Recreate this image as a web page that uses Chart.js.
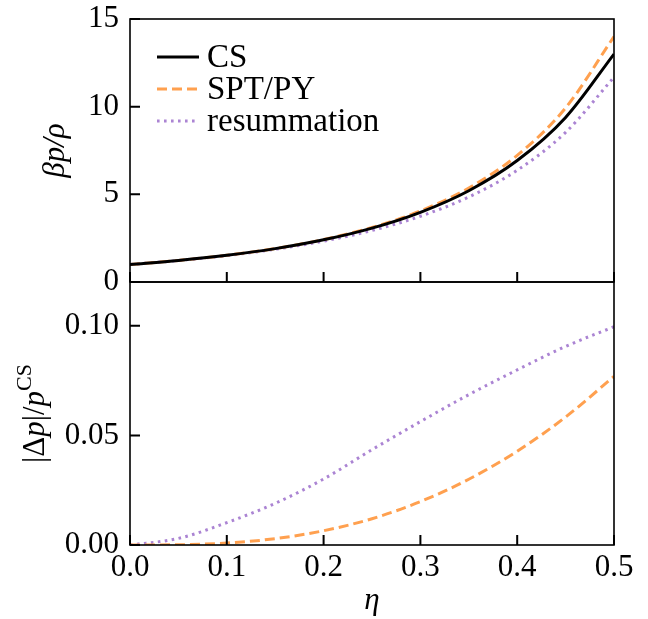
<!DOCTYPE html>
<html>
<head>
<meta charset="utf-8">
<script src="https://cdn.jsdelivr.net/npm/chart.js@4.4.0/dist/chart.umd.min.js"></script>
<style>
  body { margin: 0; background: #fff; }
  canvas { display: block; }
</style>
</head>
<body>
<canvas id="myChart" width="648" height="619"></canvas>
<script>
// packing fraction
var eta = [0, 0.05, 0.1, 0.15, 0.2, 0.25, 0.3, 0.35, 0.4, 0.45, 0.5];

// top panel: beta p / rho
var csValues    = [1.000, 1.227, 1.521, 1.904, 2.406, 3.074, 3.974, 5.206, 6.926, 9.385, 13.00];
var sptValues   = [1.000, 1.228, 1.523, 1.909, 2.422, 3.111, 4.053, 5.362, 7.222, 9.932, 14.00];
var resumValues = [1.000, 1.224, 1.506, 1.868, 2.334, 2.940, 3.750, 4.849, 6.373, 8.534, 11.68];

// bottom panel: |dp| / p^CS
var sptDiff   = [0, 0.0001, 0.0009, 0.0029, 0.0065, 0.0120, 0.0198, 0.0300, 0.0428, 0.0584, 0.0769];
var resumDiff = [0, 0.0030, 0.0102, 0.0190, 0.0301, 0.0435, 0.0563, 0.0686, 0.0799, 0.0906, 0.0996];

var xTicks = [0, 0.1, 0.2, 0.3, 0.4, 0.5];
var topTicks = [0, 5, 10, 15];
var botTicks = [0, 0.05, 0.10];

var FONT = "'Liberation Serif', 'DejaVu Serif', serif";
var orange = '#ffa04f';
var purple = '#ab84d3';

function pts(ys) {
    return eta.map(function (x, i) { return {x: x, y: ys[i]}; });
}

function line(label, ys, color, dash, axis) {
    return {
        label: label,
        data: pts(ys),
        yAxisID: axis,
        borderColor: color,
        backgroundColor: color,
        borderWidth: 3,
        borderDash: dash,
        pointRadius: 0,
        fill: false,
        cubicInterpolationMode: 'monotone'
    };
}

// frame, inward ticks, y titles and legend
var decor = {
    id: 'decor',
    afterDraw: function (chart) {
        var ctx = chart.ctx;
        var x = chart.scales.x;
        var panels = [chart.scales.yTop, chart.scales.yBot];
        ctx.save();
        ctx.strokeStyle = '#000';
        panels.forEach(function (ys) {
            ctx.lineWidth = 1.6;
            ctx.strokeRect(x.left, ys.top, x.right - x.left, ys.bottom - ys.top);
            ctx.lineWidth = 2;
            ctx.beginPath();
            ys.ticks.forEach(function (t) {
                var py = ys.getPixelForValue(t.value);
                ctx.moveTo(x.left, py);
                ctx.lineTo(x.left + 10, py);
            });
            x.ticks.forEach(function (t) {
                var px = x.getPixelForValue(t.value);
                ctx.moveTo(px, ys.bottom);
                ctx.lineTo(px, ys.bottom - 10);
            });
            ctx.stroke();
        });

        // y titles
        ctx.fillStyle = '#000';
        ctx.textBaseline = 'middle';
        var top = chart.scales.yTop;
        ctx.save();
        ctx.translate(56, (top.top + top.bottom) / 2);
        ctx.rotate(-Math.PI / 2);
        ctx.textAlign = 'center';
        ctx.font = 'italic 31px ' + FONT;
        ctx.fillText('\u03b2p/\u03c1', 0, 0);
        ctx.restore();

        var bot = chart.scales.yBot;
        var parts = [
            {t: '|\u0394', f: '31px ' + FONT, dy: 0},
            {t: 'p', f: 'italic 31px ' + FONT, dy: 0},
            {t: '|/', f: '31px ' + FONT, dy: 0},
            {t: 'p', f: 'italic 31px ' + FONT, dy: 0},
            {t: 'CS', f: '22px ' + FONT, dy: -11}
        ];
        var w = 0;
        parts.forEach(function (p) { ctx.font = p.f; p.w = ctx.measureText(p.t).width; w += p.w; });
        ctx.save();
        ctx.translate(36, (bot.top + bot.bottom) / 2);
        ctx.rotate(-Math.PI / 2);
        ctx.textAlign = 'left';
        var cx = -w / 2;
        parts.forEach(function (p) {
            ctx.font = p.f;
            ctx.fillText(p.t, cx, p.dy);
            cx += p.w;
        });
        ctx.restore();

        // legend
        var ly = top.top + 38;
        chart.data.datasets.slice(0, 3).forEach(function (ds, i) {
            var yy = ly + i * 32;
            ctx.strokeStyle = ds.borderColor;
            ctx.lineWidth = ds.borderWidth;
            ctx.setLineDash(ds.borderDash);
            ctx.beginPath();
            ctx.moveTo(x.left + 27, yy);
            ctx.lineTo(x.left + 69, yy);
            ctx.stroke();
            ctx.setLineDash([]);
            ctx.font = '33px ' + FONT;
            ctx.textAlign = 'left';
            ctx.fillText(ds.label, x.left + 77, yy + 1);
        });
        ctx.restore();
    }
};

function yFit(s) {
    s.width = 130;
    s.paddingTop = 0;
    s.paddingBottom = 0;
}

var ctx = document.getElementById('myChart').getContext('2d');
var chart = new Chart(ctx, {
    type: 'line',
    data: {
        datasets: [
            line('CS', csValues, '#000', [], 'yTop'),
            line('SPT/PY', sptValues, orange, [10, 5], 'yTop'),
            line('resummation', resumValues, purple, [2.6, 4.4], 'yTop'),
            line('SPT/PY', sptDiff, orange, [10, 5], 'yBot'),
            line('resummation', resumDiff, purple, [2.6, 4.4], 'yBot')
        ]
    },
    options: {
        responsive: false,
        animation: false,
        layout: { padding: { left: 0, right: 34, top: 19, bottom: 0 } },
        plugins: {
            legend: { display: false },
            tooltip: { enabled: false }
        },
        scales: {
            x: {
                type: 'linear',
                min: 0,
                max: 0.5,
                afterBuildTicks: function (s) { s.ticks = xTicks.map(function (v) { return {value: v}; }); },
                afterFit: function (s) { s.height = 74; },
                grid: { display: false, drawTicks: false },
                border: { display: false },
                ticks: {
                    padding: 4,
                    color: '#000',
                    font: { family: FONT, size: 31 },
                    callback: function (v) { return v.toFixed(1); }
                },
                title: {
                    display: true,
                    text: '\u03b7',
                    color: '#000',
                    padding: { top: 0, bottom: 0 },
                    font: { family: FONT, size: 31, style: 'italic' }
                }
            },
            yBot: {
                type: 'linear',
                position: 'left',
                stack: 'panels',
                stackWeight: 1,
                min: 0,
                max: 0.12,
                afterBuildTicks: function (s) { s.ticks = botTicks.map(function (v) { return {value: v}; }); },
                afterFit: yFit,
                grid: { display: false, drawTicks: false },
                border: { display: false },
                ticks: {
                    padding: 11,
                    color: '#000',
                    font: { family: FONT, size: 31 },
                    callback: function (v) { return v.toFixed(2); }
                }
            },
            yTop: {
                type: 'linear',
                position: 'left',
                stack: 'panels',
                stackWeight: 1,
                min: 0,
                max: 15,
                afterBuildTicks: function (s) { s.ticks = topTicks.map(function (v) { return {value: v}; }); },
                afterFit: yFit,
                grid: { display: false, drawTicks: false },
                border: { display: false },
                ticks: {
                    padding: 11,
                    color: '#000',
                    font: { family: FONT, size: 31 },
                    callback: function (v) { return String(v); }
                }
            }
        }
    },
    plugins: [decor]
});
</script>
</body>
</html>
